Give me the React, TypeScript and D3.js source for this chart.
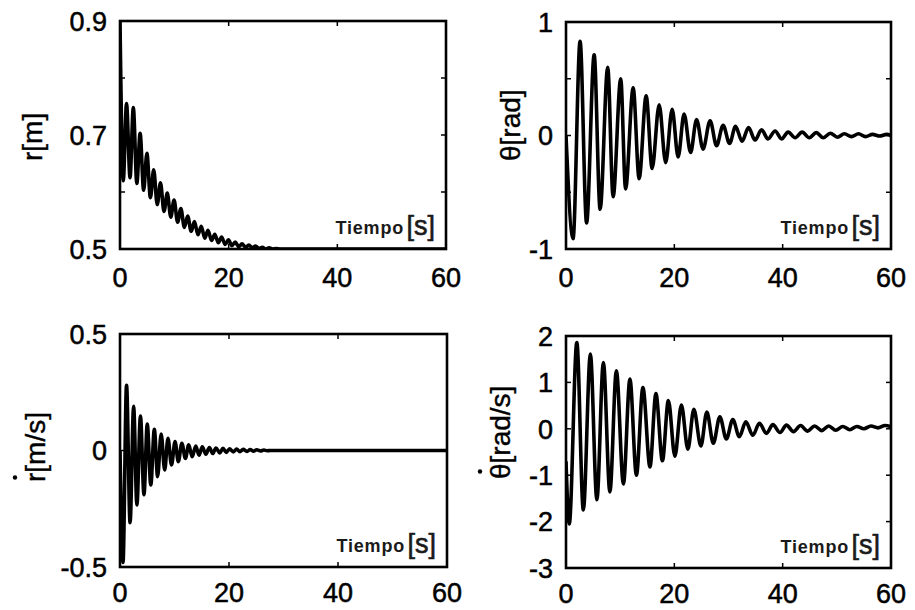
import React from 'react';
import * as d3 from 'd3';

// time axis, shared by all four panels
const xTicks = [0, 20, 40, 60];

// r [m]  (peaks / troughs)
const rTime = [0, 0.6, 1.2, 1.85, 2.45, 3.1, 3.7, 4.35, 4.95, 5.6, 6.2, 6.85, 7.45, 8.1, 8.7, 9.35, 9.95, 10.6, 11.2, 11.85, 12.45, 13.1, 13.7, 14.35, 14.95, 15.6, 16.2, 16.85, 17.45, 18.1, 18.7, 19.35, 19.95, 20.6, 21.2, 21.85, 22.45, 23.1, 23.7, 24.35, 24.95, 25.6, 26.2, 26.85, 27.45, 28.1, 28.7, 29.5, 60];
const rValue = [0.90, 0.62, 0.755, 0.625, 0.748, 0.615, 0.703, 0.603, 0.668, 0.59, 0.639, 0.578, 0.616, 0.566, 0.598, 0.556, 0.586, 0.547, 0.571, 0.538, 0.558, 0.531, 0.548, 0.525, 0.540, 0.519, 0.533, 0.515, 0.526, 0.511, 0.521, 0.508, 0.516, 0.506, 0.512, 0.504, 0.509, 0.503, 0.507, 0.502, 0.505, 0.501, 0.503, 0.500, 0.502, 0.500, 0.501, 0.500, 0.500];
const rTicks = [0.5, 0.6, 0.7, 0.8, 0.9];
const rLabels = [0.5, 0.7, 0.9];

// theta [rad]
const thetaTime = [0, 1.3, 2.6, 3.8, 5.2, 6.3, 7.7, 8.7, 10.1, 11.0, 12.4, 13.5, 14.8, 15.9, 17.2, 18.4, 19.6, 20.7, 21.8, 23.0, 24.1, 25.3, 26.6, 27.8, 29.0, 30.2, 31.3, 32.5, 33.7, 34.9, 36.1, 37.3, 38.6, 39.8, 41.0, 42.3, 43.6, 44.9, 46.2, 47.5, 48.8, 50.1, 51.4, 52.7, 54.0, 55.3, 56.6, 57.9, 59.2, 60];
const thetaValue = [0, -0.91, 0.83, -0.77, 0.71, -0.65, 0.60, -0.54, 0.50, -0.47, 0.42, -0.38, 0.35, -0.29, 0.27, -0.24, 0.23, -0.19, 0.19, -0.15, 0.14, -0.12, 0.13, -0.09, 0.09, -0.07, 0.08, -0.05, 0.07, -0.04, 0.05, -0.03, 0.04, -0.03, 0.03, -0.02, 0.03, -0.02, 0.025, -0.02, 0.02, -0.015, 0.015, -0.01, 0.015, -0.01, 0.01, -0.005, 0.01, 0];
const thetaTicks = [-1, -0.5, 0, 0.5, 1];
const thetaLabels = [-1, 0, 1];

// r dot [m/s]
const rDotTime = [0, 0.55, 1.2, 1.85, 2.5, 3.1, 3.75, 4.4, 5.0, 5.65, 6.3, 6.9, 7.55, 8.2, 8.8, 9.45, 10.1, 10.7, 11.35, 12.0, 12.6, 13.25, 13.9, 14.5, 15.1, 15.75, 16.4, 17.0, 17.6, 18.3, 18.9, 19.5, 20.1, 20.8, 21.4, 22.0, 22.6, 23.3, 23.9, 24.5, 25.1, 25.8, 26.4, 27.0, 27.6, 60];
const rDotValue = [0, -0.48, 0.28, -0.31, 0.19, -0.234, 0.148, -0.19, 0.114, -0.148, 0.091, -0.112, 0.071, -0.084, 0.052, -0.062, 0.038, -0.048, 0.031, -0.034, 0.024, -0.027, 0.019, -0.02, 0.016, -0.016, 0.013, -0.013, 0.011, -0.01, 0.009, -0.008, 0.007, -0.006, 0.006, -0.005, 0.005, -0.004, 0.004, -0.003, 0.003, -0.002, 0.002, -0.001, 0, 0];
const rDotTicks = [-0.5, 0, 0.5];
const rDotLabels = [-0.5, 0, 0.5];

// theta dot [rad/s]
const thetaDotTime = [0, 0.6, 2.0, 3.2, 4.5, 5.7, 6.9, 8.1, 9.3, 10.6, 11.8, 13.0, 14.2, 15.5, 16.6, 17.8, 18.9, 20.1, 21.3, 22.5, 23.6, 24.9, 26.0, 27.2, 28.4, 29.6, 30.8, 32.0, 33.2, 34.5, 35.7, 37.0, 38.2, 39.5, 40.7, 42.0, 43.3, 44.6, 45.9, 47.2, 48.5, 49.8, 51.1, 52.4, 53.7, 55.0, 56.3, 57.6, 58.9, 60];
const thetaDotValue = [-0.7, -2.05, 1.86, -1.75, 1.61, -1.53, 1.43, -1.36, 1.25, -1.19, 1.07, -1.0, 0.89, -0.82, 0.76, -0.69, 0.61, -0.59, 0.51, -0.44, 0.42, -0.37, 0.36, -0.31, 0.26, -0.22, 0.2, -0.17, 0.15, -0.14, 0.12, -0.1, 0.09, -0.08, 0.08, -0.06, 0.07, -0.05, 0.06, -0.04, 0.06, -0.03, 0.05, -0.02, 0.05, 0.0, 0.06, 0.02, 0.07, 0.05];
const thetaDotTicks = [-3, -2, -1, 0, 1, 2];
const thetaDotLabels = [-3, -2, -1, 0, 1, 2];

const FONT = "'Liberation Sans', Arial, Helvetica, sans-serif";

type PanelProps = {
  id: string;
  x0: number; x1: number; y0: number; y1: number;
  domain: [number, number];
  ticks: number[];
  labels: number[];
  time: number[];
  values: number[];
  symbol: string;
  unit: string;
  dotted: boolean;
  titleX: number;
  titleY: number;
  symbolWidth: number;
  xLabelGap: number;
};

function Panel(p: PanelProps) {
  const x = d3.scaleLinear().domain([0, 60]).range([p.x0, p.x1]);
  const y = d3.scaleLinear().domain(p.domain).range([p.y1, p.y0]);

  const points: [number, number][] = p.time.map((t, i) => [t, p.values[i]]);
  const line = d3.line<[number, number]>()
    .x(d => x(d[0]))
    .y(d => y(d[1]))
    .curve(d3.curveMonotoneX);

  const fmt = (v: number) => String(v);
  const tickLen = 5;

  return (
    <g>
      <defs>
        <clipPath id={`clip-${p.id}`}>
          <rect x={p.x0} y={p.y0} width={p.x1 - p.x0} height={p.y1 - p.y0} />
        </clipPath>
      </defs>

      <path d={line(points) || ''} fill="none" stroke="#000" strokeWidth={3.6}
        clipPath={`url(#clip-${p.id})`} />

      {/* inward ticks */}
      {xTicks.slice(1, -1).map(t => (
        <g key={`xt${t}`}>
          <line x1={x(t)} x2={x(t)} y1={p.y1} y2={p.y1 - tickLen} stroke="#000" strokeWidth={1.5} />
          <line x1={x(t)} x2={x(t)} y1={p.y0} y2={p.y0 + tickLen} stroke="#000" strokeWidth={1.5} />
        </g>
      ))}
      {p.ticks.map(v => (
        <g key={`yt${v}`}>
          <line x1={p.x0} x2={p.x0 + tickLen} y1={y(v)} y2={y(v)} stroke="#000" strokeWidth={1.5} />
          <line x1={p.x1} x2={p.x1 - tickLen} y1={y(v)} y2={y(v)} stroke="#000" strokeWidth={1.5} />
        </g>
      ))}

      <rect x={p.x0} y={p.y0} width={p.x1 - p.x0} height={p.y1 - p.y0}
        fill="none" stroke="#000" strokeWidth={2.6} />

      {/* tick labels */}
      {xTicks.map(t => (
        <text key={`xl${t}`} x={x(t)} y={p.y1 + p.xLabelGap} textAnchor="middle"
          fontFamily={FONT} fontSize={27} stroke="#000" strokeWidth={0.5}>{fmt(t)}</text>
      ))}
      {p.labels.map(v => (
        <text key={`yl${v}`} x={p.x0 - 13} y={y(v)} dy="0.36em" textAnchor="end"
          fontFamily={FONT} fontSize={27} stroke="#000" strokeWidth={0.5}>{fmt(v)}</text>
      ))}

      {/* x axis title inside the box */}
      <text x={p.x1 - 42} y={p.y1 - 15} textAnchor="end" fontFamily={FONT}
        fontSize={18} fontWeight="bold" letterSpacing={0.8} fill="#1a1a1a">Tiempo</text>
      <text x={p.x1 - 11} y={p.y1 - 14} textAnchor="end" fontFamily={FONT}
        fontSize={27} fill="#1a1a1a" stroke="#1a1a1a" strokeWidth={0.6}>[s]</text>

      {/* rotated y title */}
      <g transform={`translate(${p.titleX},${p.titleY}) rotate(-90)`}>
        <text x={0} y={0} fontFamily={FONT} fontSize={28} stroke="#000" strokeWidth={0.4}>
          {p.symbol}<tspan>{p.unit}</tspan>
        </text>
        {p.dotted && <circle cx={p.symbolWidth / 2} cy={-30} r={2.2} fill="#000" />}
      </g>
    </g>
  );
}

export default function App() {
  return (
    <svg width={915} height={610} style={{ position: 'absolute', left: 0, top: 0, background: '#fff' }}>
      <rect width={915} height={610} fill="#fff" />
      <Panel id="r" x0={120} x1={446} y0={21} y1={249} domain={[0.5, 0.9]}
        ticks={rTicks} labels={rLabels} time={rTime} values={rValue}
        symbol="r" unit="[m]" dotted={false} titleX={42} titleY={161} symbolWidth={9} xLabelGap={38} />
      <Panel id="theta" x0={566} x1={891} y0={22} y1={249} domain={[-1, 1]}
        ticks={thetaTicks} labels={thetaLabels} time={thetaTime} values={thetaValue}
        symbol="θ" unit="[rad]" dotted={false} titleX={520} titleY={161} symbolWidth={15} xLabelGap={38} />
      <Panel id="rdot" x0={120} x1={447} y0={334} y1={567} domain={[-0.5, 0.5]}
        ticks={rDotTicks} labels={rDotLabels} time={rDotTime} values={rDotValue}
        symbol="r" unit="[m/s]" dotted={true} titleX={45} titleY={482} symbolWidth={9} xLabelGap={35} />
      <Panel id="thetadot" x0={566} x1={891} y0={336} y1={568} domain={[-3, 2]}
        ticks={thetaDotTicks} labels={thetaDotLabels} time={thetaDotTime} values={thetaDotValue}
        symbol="θ" unit="[rad/s]" dotted={true} titleX={510} titleY={479} symbolWidth={15} xLabelGap={35} />
    </svg>
  );
}
